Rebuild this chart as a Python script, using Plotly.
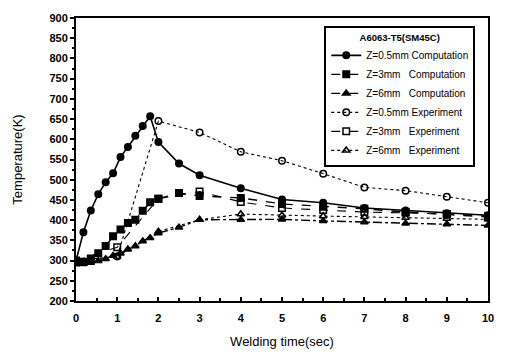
import plotly.graph_objects as go

# Computation time points
t_comp = [0, 0.18, 0.36, 0.54, 0.72, 0.9, 1.08, 1.26, 1.44, 1.62, 1.8, 2.0, 2.5, 3, 4, 5, 6, 7, 8, 9, 10]
z05_comp = [300, 370, 424, 464, 494, 516, 556, 581, 609, 633, 657, 593, 540, 511, 479, 451, 443, 430, 424, 417, 412]
z3_comp = [295, 297, 305, 318, 336, 360, 377, 393, 401, 423, 444, 453, 467, 460, 455, 440, 434, 428, 420, 414, 408]
z6_comp = [295, 292, 295, 299, 304, 312, 318, 328, 336, 348, 356, 368, 382, 401, 401, 402, 398, 395, 392, 390, 387]

# Experiment time points
t_exp = [0, 1, 2, 3, 4, 5, 6, 7, 8, 9, 10]
z05_exp = [300, 310, 645, 617, 569, 547, 515, 481, 473, 458, 443]
z3_exp = [300, 333, 453, 471, 445, 430, 425, 420, 418, 415, 410]
z6_exp = [300, 310, 372, 401, 415, 412, 410, 408, 406, 404, 402]

legend_title = "A6063-T5(SM45C)"
names = ["Z=0.5mm Computation", "Z=3mm   Computation", "Z=6mm   Computation",
         "Z=0.5mm Experiment", "Z=3mm   Experiment", "Z=6mm   Experiment"]

fig = go.Figure()
specs = [
    (t_comp, z05_comp, names[0], "circle", "solid", 1.6),
    (t_comp, z3_comp, names[1], "square", "dash", 1.4),
    (t_comp, z6_comp, names[2], "triangle-up", "dashdot", 1.4),
    (t_exp, z05_exp, names[3], "circle-open", "dot", 1.1),
    (t_exp, z3_exp, names[4], "square-open", "dash", 1.1),
    (t_exp, z6_exp, names[5], "triangle-up-open", "dot", 1.1),
]
for x, y, n, sym, dash, w in specs:
    fig.add_trace(go.Scatter(
        x=x, y=y, name=n, mode="lines+markers",
        line=dict(color="black", width=w, dash=dash),
        marker=dict(symbol=sym, size=6.5, color="black",
                    line=dict(color="black", width=1.5)),
    ))

tick_font = dict(family="Liberation Sans, Arial", size=11, color="black", weight="bold")
title_font = dict(family="Liberation Sans, Arial", size=13, color="black")
fig.update_xaxes(
    range=[0, 10], dtick=1, showline=True, linecolor="black", linewidth=2,
    mirror=True, ticks="inside", ticklen=4, tickwidth=1.5, tickcolor="black",
    minor=dict(dtick=0.5, ticks="inside", ticklen=3, tickcolor="black"),
    showgrid=False, zeroline=False, tickfont=tick_font, ticklabelstandoff=6,
    title=dict(text="Welding time(sec)", font=title_font, standoff=14),
)
fig.update_yaxes(
    range=[200, 900], dtick=50, showline=True, linecolor="black", linewidth=2,
    mirror=True, ticks="outside", ticklen=4, tickwidth=1.5, tickcolor="black",
    minor=dict(dtick=25, ticks="outside", ticklen=2, tickcolor="black"),
    showgrid=False, zeroline=False, tickfont=tick_font,
    title=dict(text="Temperature(K)", font=title_font, standoff=24),
)
fig.update_layout(
    width=506, height=359,
    margin=dict(l=76, r=13, t=17, b=52),
    plot_bgcolor="white", paper_bgcolor="white",
    legend=dict(
        x=0.969, y=0.97, xanchor="right", yanchor="top",
        bgcolor="white", bordercolor="black", borderwidth=2,
        font=dict(family="Liberation Sans, Arial", size=10, color="black"),
        title=dict(text=legend_title, side="top center",
                   font=dict(family="Liberation Sans, Arial", size=9.5, color="black", weight="bold")),
        itemwidth=30, tracegroupgap=0,
    ),
)
fig.write_html("out.html")
